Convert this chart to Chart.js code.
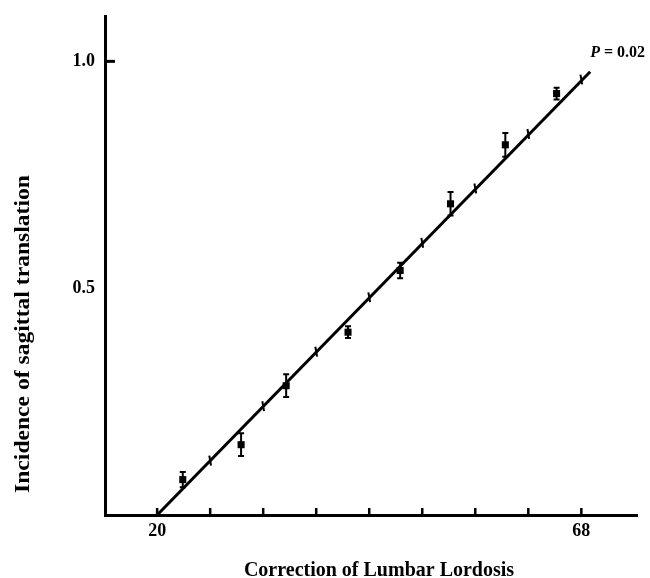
<!DOCTYPE html>
<html>
<head>
<meta charset="utf-8">
<script src="https://cdn.jsdelivr.net/npm/chart.js@4.4.1/dist/chart.umd.min.js"></script>
<style>
  body { margin: 0; background: #fff; }
  canvas { display: block; }
</style>
</head>
<body>
<canvas id="chart" width="650" height="578"></canvas>
<script>
// tick positions / labels
const xTicks = [20, 26, 32, 38, 44, 50, 56, 62, 68];
const xLabelled = [20, 68];
const yTicks = [0.5, 1.0];

// group means with error bars
const meanX = [22.9, 29.5, 34.6, 41.6, 47.5, 53.2, 59.4, 65.2];
const meanY = [0.078, 0.155, 0.285, 0.403, 0.539, 0.686, 0.816, 0.929];
const errY  = [0.017, 0.025, 0.025, 0.013, 0.017, 0.026, 0.026, 0.013];

// fitted line and the small marks across it
const fitX = [20, 69];
const fitY = [0, 0.977];
const markX = [26, 32, 38, 44, 50, 56, 62, 68];
const markY = [0.12, 0.24, 0.36, 0.48, 0.60, 0.72, 0.84, 0.96];

const serif = '"Liberation Serif", "Times New Roman", serif';

const errorBars = {
  id: 'errorBars',
  afterDatasetsDraw(chart) {
    const { ctx, scales: { x, y } } = chart;
    ctx.save();
    ctx.strokeStyle = '#000';
    ctx.lineWidth = 2;
    meanX.forEach((v, i) => {
      const px = x.getPixelForValue(v);
      const top = y.getPixelForValue(meanY[i] + errY[i]);
      const bot = y.getPixelForValue(meanY[i] - errY[i]);
      ctx.beginPath();
      ctx.moveTo(px, top); ctx.lineTo(px, bot);
      ctx.moveTo(px - 3, top); ctx.lineTo(px + 3, top);
      ctx.moveTo(px - 3, bot); ctx.lineTo(px + 3, bot);
      ctx.stroke();
    });
    ctx.restore();
  }
};

// inward tick marks + text
const extras = {
  id: 'extras',
  afterDraw(chart) {
    const { ctx, scales: { x, y }, chartArea } = chart;
    ctx.save();
    ctx.strokeStyle = '#000';
    ctx.fillStyle = '#000';
    ctx.lineWidth = 2.5;
    ctx.beginPath();
    xTicks.forEach(v => {
      const px = x.getPixelForValue(v);
      ctx.moveTo(px, chartArea.bottom);
      ctx.lineTo(px, chartArea.bottom - 7);
    });
    ctx.stroke();
    ctx.lineWidth = 3;
    ctx.beginPath();
    const py = y.getPixelForValue(1.0);
    ctx.moveTo(chartArea.left, py);
    ctx.lineTo(chartArea.left + 10, py);
    ctx.stroke();

    // P value next to the end of the line
    const ex = x.getPixelForValue(fitX[1]);
    const ey = y.getPixelForValue(fitY[1]);
    ctx.textBaseline = 'alphabetic';
    ctx.textAlign = 'left';
    ctx.font = 'italic bold 16px ' + serif;
    ctx.fillText('P', ex, ey - 15);
    const pw = ctx.measureText('P').width;
    ctx.font = 'bold 16px ' + serif;
    ctx.fillText(' = 0.02', ex + pw, ey - 15);

    // axis titles
    ctx.font = 'bold 20px ' + serif;
    ctx.textAlign = 'center';
    ctx.fillText('Correction of Lumbar Lordosis', 379, 576);
    ctx.translate(29, 334);
    ctx.rotate(-Math.PI / 2);
    ctx.scale(1.18, 1);
    ctx.fillText('Incidence of sagittal translation', 0, 0);
    ctx.restore();
  }
};

new Chart(document.getElementById('chart'), {
  type: 'scatter',
  data: {
    datasets: [
      {
        type: 'line',
        data: fitX.map((v, i) => ({ x: v, y: fitY[i] })),
        borderColor: '#000',
        borderWidth: 3,
        pointRadius: 0,
        fill: false
      },
      {
        data: markX.map((v, i) => ({ x: v, y: markY[i] })),
        pointStyle: 'line',
        rotation: 80,
        radius: 5,
        borderWidth: 2,
        borderColor: '#000'
      },
      {
        data: meanX.map((v, i) => ({ x: v, y: meanY[i] })),
        pointStyle: 'rect',
        radius: 5,
        backgroundColor: '#000',
        borderColor: '#000',
        borderWidth: 0
      }
    ]
  },
  options: {
    responsive: false,
    animation: false,
    layout: { padding: { top: 16, right: 13, left: 0, bottom: 0 } },
    plugins: { legend: { display: false }, tooltip: { enabled: false } },
    scales: {
      x: {
        type: 'linear',
        min: 14.1,
        max: 74.3,
        afterBuildTicks: s => { s.ticks = xTicks.map(v => ({ value: v })); },
        afterFit: s => { s.height = 63; },
        grid: { display: false, drawTicks: false },
        border: { color: '#000', width: 3 },
        ticks: {
          callback: v => xLabelled.includes(v) ? String(v) : '',
          font: { family: serif, size: 18, weight: 'bold' },
          color: '#000',
          padding: 6,
          maxRotation: 0,
          autoSkip: false
        }
      },
      y: {
        min: 0,
        max: 1.1,
        afterBuildTicks: s => { s.ticks = yTicks.map(v => ({ value: v })); },
        afterFit: s => { s.width = 105; s.paddingTop = 0; s.paddingBottom = 0; },
        grid: { display: false, drawTicks: false },
        border: { color: '#000', width: 3 },
        ticks: {
          callback: v => v.toFixed(1),
          font: { family: serif, size: 18, weight: 'bold' },
          color: '#000',
          padding: 10
        }
      }
    }
  },
  plugins: [errorBars, extras]
});
</script>
</body>
</html>
